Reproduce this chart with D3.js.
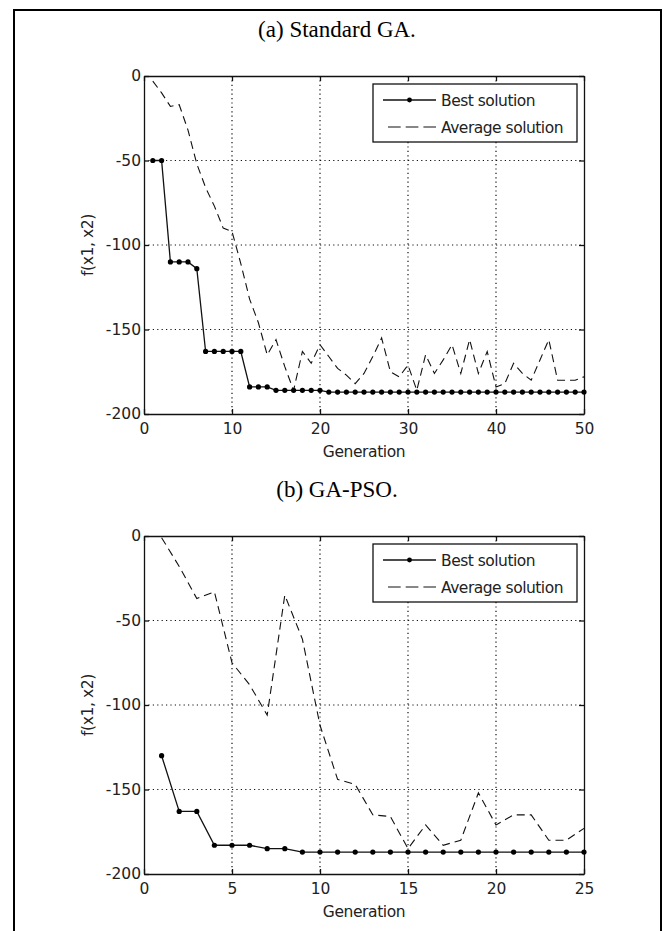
<!DOCTYPE html>
<meta charset="utf-8">
<head>
<title>GA vs GA-PSO</title>
<style>
body { margin: 0; background: #fff; }
.tick text, .lbl { font: 15.5px "DejaVu Sans", sans-serif; fill: #222; }
.lbl { letter-spacing: -0.4px; }
.title { font: 23px "Liberation Serif", "Times New Roman", serif; fill: #000; }
.legend text { font: 15.5px "DejaVu Sans", sans-serif; fill: #222; letter-spacing: -0.5px; }
.grid line { stroke: #111; stroke-width: 1.2; stroke-dasharray: 1.2,3.2; }
</style>
</head>
<body>
<script src="https://cdn.jsdelivr.net/npm/d3@7"></script>
<script>

// Data
var gaGenerations = [1,2,3,4,5,6,7,8,9,10,11,12,13,14,15,16,17,18,19,20,21,22,23,24,25,
                     26,27,28,29,30,31,32,33,34,35,36,37,38,39,40,41,42,43,44,45,46,47,48,49,50];
var gaBest = [-50,-50,-110,-110,-110,-114,-163,-163,-163,-163,-163,-184,-184,-184,-186,-186,-186,-186,-186,-186,
              -187,-187,-187,-187,-187,-187,-187,-187,-187,-187,-187,-187,-187,-187,-187,
              -187,-187,-187,-187,-187,-187,-187,-187,-187,-187,-187,-187,-187,-187,-187];
var gaAverage = [-3,-10,-18,-17,-32,-52,-66,-77,-90,-92,-111,-132,-146,-165,-156,-172,-186,-163,-170,-159,
                 -166,-173,-177,-182,-176,-166,-155,-175,-178,-171,-186,-165,-176,-168,-159,-176,-156,-176,-163,-184,
                 -182,-170,-176,-180,-168,-156,-180,-180,-180,-178];

var psoGenerations = [1,2,3,4,5,6,7,8,9,10,11,12,13,14,15,16,17,18,19,20,21,22,23,24,25];
var psoBest = [-130,-163,-163,-183,-183,-183,-185,-185,-187,-187,-187,-187,-187,-187,-187,-187,-187,
               -187,-187,-187,-187,-187,-187,-187,-187];
var psoAverage = [-1,-18,-37,-33,-75,-88,-106,-35,-61,-112,-144,-147,-165,-166,-185,-171,-183,-180,-152,
                  -171,-165,-165,-180,-180,-173];

var yTicks = [0, -50, -100, -150, -200];
var gaXTicks = [0, 10, 20, 30, 40, 50];
var psoXTicks = [0, 5, 10, 15, 20, 25];
var seriesNames = ["Best solution", "Average solution"];

var W = 672, H = 931;
var svg = d3.select("body").append("svg")
    .attr("width", W)
    .attr("height", H);

// outer frame (open at the bottom)
svg.append("path")
    .attr("d", "M14,931V10H661V931")
    .attr("fill", "none")
    .attr("stroke", "#000")
    .attr("stroke-width", 2);

// plain hyphen for negatives, like the original
function fmt(d) { return String(d); }

function drawPanel(opt) {
    var x = d3.scaleLinear().domain([0, opt.xMax]).range([144, 584]);
    var y = d3.scaleLinear().domain([-200, 0]).range([opt.top + 338, opt.top]);

    var g = svg.append("g");

    svg.append("text")
        .attr("class", "title")
        .attr("x", 337)
        .attr("y", opt.top - 39)
        .attr("text-anchor", "middle")
        .text(opt.title);

    // grid
    var grid = g.append("g").attr("class", "grid");
    grid.selectAll(".vx")
        .data(opt.xTicks.slice(1, -1))
        .enter().append("line")
        .attr("x1", function(d) { return x(d); })
        .attr("x2", function(d) { return x(d); })
        .attr("y1", y(0))
        .attr("y2", y(-200));
    grid.selectAll(".hy")
        .data(yTicks.slice(1, -1))
        .enter().append("line")
        .attr("y1", function(d) { return y(d); })
        .attr("y2", function(d) { return y(d); })
        .attr("x1", x(0))
        .attr("x2", x(opt.xMax));

    // axes, ticks pointing inward on all four sides
    var bottom = g.append("g")
        .attr("transform", "translate(0," + y(-200) + ")")
        .call(d3.axisBottom(x).tickValues(opt.xTicks).tickFormat(fmt)
            .tickSizeInner(-5).tickSizeOuter(0).tickPadding(9));
    var top = g.append("g")
        .attr("transform", "translate(0," + y(0) + ")")
        .call(d3.axisTop(x).tickValues(opt.xTicks).tickSizeInner(-5).tickSizeOuter(0).tickFormat(""));
    var left = g.append("g")
        .attr("transform", "translate(" + x(0) + ",0)")
        .call(d3.axisLeft(y).tickValues(yTicks).tickFormat(fmt)
            .tickSizeInner(-5).tickSizeOuter(0).tickPadding(3));
    var right = g.append("g")
        .attr("transform", "translate(" + x(opt.xMax) + ",0)")
        .call(d3.axisRight(y).tickValues(yTicks).tickSizeInner(-5).tickSizeOuter(0).tickFormat(""));
    [bottom, top, left, right].forEach(function(a) {
        a.selectAll("path, line").attr("stroke", "#111").attr("stroke-width", 1.3);
    });

    g.append("text")
        .attr("class", "lbl")
        .attr("x", (x(0) + x(opt.xMax)) / 2)
        .attr("y", y(-200) + 43)
        .attr("text-anchor", "middle")
        .text("Generation");
    g.append("text")
        .attr("class", "lbl")
        .attr("transform", "translate(93," + y(-100) + ") rotate(-90)")
        .attr("text-anchor", "middle")
        .text("f(x1, x2)");

    // data
    var clipId = "clip" + opt.key;
    svg.append("clipPath").attr("id", clipId)
        .append("rect")
        .attr("x", x(0)).attr("y", y(0))
        .attr("width", x(opt.xMax) - x(0))
        .attr("height", y(-200) - y(0));

    var line = d3.line()
        .x(function(d) { return x(d[0]); })
        .y(function(d) { return y(d[1]); });

    var avgPts = d3.zip(opt.gens, opt.avg);
    var bestPts = d3.zip(opt.gens, opt.best);

    g.append("path")
        .attr("clip-path", "url(#" + clipId + ")")
        .attr("d", line(avgPts))
        .attr("fill", "none")
        .attr("stroke", "#111")
        .attr("stroke-width", 1.1)
        .attr("stroke-dasharray", "8,5");

    g.append("path")
        .attr("d", line(bestPts))
        .attr("fill", "none")
        .attr("stroke", "#111")
        .attr("stroke-width", 1.3);

    g.selectAll(".dot")
        .data(bestPts)
        .enter().append("circle")
        .attr("class", "dot")
        .attr("cx", function(d) { return x(d[0]); })
        .attr("cy", function(d) { return y(d[1]); })
        .attr("r", 2.6)
        .attr("fill", "#000");

    // legend
    var lg = g.append("g").attr("class", "legend");
    var ly = opt.top + 8;
    lg.append("rect")
        .attr("x", 373).attr("y", ly)
        .attr("width", 204).attr("height", 58)
        .attr("fill", "#fff")
        .attr("stroke", "#111")
        .attr("stroke-width", 1.3);
    lg.append("line")
        .attr("x1", 383).attr("x2", 436)
        .attr("y1", ly + 16).attr("y2", ly + 16)
        .attr("stroke", "#111").attr("stroke-width", 1.3);
    lg.append("circle")
        .attr("cx", 409.5).attr("cy", ly + 16).attr("r", 2.4).attr("fill", "#000");
    lg.append("line")
        .attr("x1", 388).attr("x2", 436)
        .attr("y1", ly + 43).attr("y2", ly + 43)
        .attr("stroke", "#111").attr("stroke-width", 1.1)
        .attr("stroke-dasharray", "12.7,5");
    lg.selectAll("text")
        .data(seriesNames)
        .enter().append("text")
        .attr("x", 441)
        .attr("y", function(d, i) { return ly + 22 + i * 27; })
        .text(function(d) { return d; });
}

drawPanel({ key: "a", title: "(a) Standard GA.", top: 76, xMax: 50, xTicks: gaXTicks,
            gens: gaGenerations, best: gaBest, avg: gaAverage });
drawPanel({ key: "b", title: "(b) GA-PSO.", top: 536, xMax: 25, xTicks: psoXTicks,
            gens: psoGenerations, best: psoBest, avg: psoAverage });

</script>
</body>
